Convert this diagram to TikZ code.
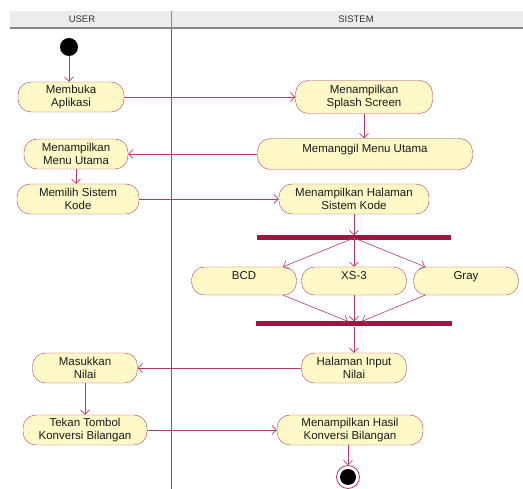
\documentclass[tikz,border=0pt]{standalone}
\usepackage{fontspec}
\setmainfont{Liberation Sans}
\usepackage{xcolor}
\definecolor{umlline}{HTML}{B83A62}
\definecolor{umlbar}{HTML}{9B1740}
\definecolor{umlfill}{HTML}{FFF9C8}
\definecolor{lanegray}{HTML}{ECECEC}
\definecolor{laneline}{HTML}{888888}
\usetikzlibrary{arrows.meta,positioning,calc}

\tikzset{
  act/.style={draw=umlline, fill=umlfill, rounded corners=13pt, align=center,
    minimum height=30pt, inner xsep=6pt, inner ysep=2pt,
    font=\fontsize{11.5}{13.5}\selectfont, text=black!90},
  toptext/.style={text depth=12pt},
  flow/.style={umlline, line width=0.6pt, -{Straight Barb[length=4.5pt,width=9pt]}},
  syncbar/.style={fill=umlbar, draw=none, minimum height=5pt, inner sep=0pt},
  lanehead/.style={font=\fontsize{9.5}{11}\selectfont, text=black!80},
}

\begin{document}
\begin{tikzpicture}[x=1pt,y=-1pt]
  \useasboundingbox (0,0) rectangle (523,489);
  % Swimlanes
  \fill[lanegray] (10,11) rectangle (523,27);
  \draw[laneline, line width=1.5pt] (10,28) -- (523,28);
  \draw[laneline, line width=0.8pt] (171,11) -- (171,27);
  \draw[umlline, line width=0.8pt] (171,29) -- (171,489);
  \node[lanehead] (user) at (82,19) {USER};
  \node[lanehead] (sistem) at (356,19) {SISTEM};

  % Start / end
  \node[circle, fill=black, minimum size=18pt, inner sep=0pt] (start) at (69,47) {};
  \node[circle, draw=umlline, fill=white, line width=0.8pt, minimum size=23pt, inner sep=0pt] (stop) at (348,477) {};
  \node[circle, fill=black, minimum size=16pt, inner sep=0pt] (stopdot) at (stop) {};

  % Activities
  \node[act, minimum width=106pt] (buka) at (71,97) {Membuka\\Aplikasi};
  \node[act, minimum width=137pt, minimum height=33pt] (splash) at (364,97) {Menampilkan\\Splash Screen};
  \node[act, toptext, minimum width=215pt, minimum height=31pt] (panggil) at (365,154) {Memanggil Menu Utama};
  \node[act, minimum width=104pt] (menu) at (76,154) {Menampilkan\\Menu Utama};
  \node[act, minimum width=122pt] (pilih) at (78,199) {Memilih Sistem\\Kode};
  \node[act, minimum width=150pt] (halaman) at (354,199) {Menampilkan Halaman\\Sistem Kode};

  \node[syncbar, minimum width=194pt] (fork) at (354,238) {};
  \node[act, toptext, minimum width=105pt, minimum height=28pt] (bcd) at (244,281) {BCD};
  \node[act, toptext, minimum width=105pt, minimum height=28pt] (xs) at (354,281) {XS-3};
  \node[act, toptext, minimum width=105pt, minimum height=28pt] (gray) at (466,281) {Gray};
  \node[syncbar, minimum width=196pt] (join) at (354,324) {};

  \node[act, minimum width=105pt] (input) at (354,368) {Halaman Input\\Nilai};
  \node[act, minimum width=105pt] (masuk) at (85,368) {Masukkan\\Nilai};
  \node[act, minimum width=124pt] (tekan) at (85,430) {Tekan Tombol\\Konversi Bilangan};
  \node[act, minimum width=146pt] (hasil) at (350,430) {Menampilkan Hasil\\Konversi Bilangan};

  % Flows
  \draw[flow] (start) -- (start |- buka.north);
  \draw[flow] (buka.east) -- (splash.west |- buka.east);
  \draw[flow] (splash) -- (panggil.north -| splash);
  \draw[flow] (panggil.west) -- (menu.east);
  \draw[flow] (menu) -- (menu |- pilih.north);
  \draw[flow] (pilih.east) -- (halaman.west |- pilih.east);
  \draw[flow] (halaman) -- (fork);
  \draw[flow] (fork.center) -- ([xshift=39pt]bcd.north);
  \draw[flow] (fork.center) -- (xs.north);
  \draw[flow] (fork.center) -- ([xshift=-41pt]gray.north);
  \draw[flow] ([xshift=39pt]bcd.south) -- ([xshift=-6pt]join.north);
  \draw[flow] (xs.south) -- (join.north);
  \draw[flow] ([xshift=-41pt]gray.south) -- ([xshift=8pt]join.north);
  \draw[flow] (join) -- (input.north);
  \draw[flow] (input.west) -- (masuk.east);
  \draw[flow] (masuk) -- (tekan.north);
  \draw[flow] (tekan.east) -- (hasil.west);
  \draw[flow] (hasil.south -| stop) -- (stop.north);
\end{tikzpicture}
\end{document}
